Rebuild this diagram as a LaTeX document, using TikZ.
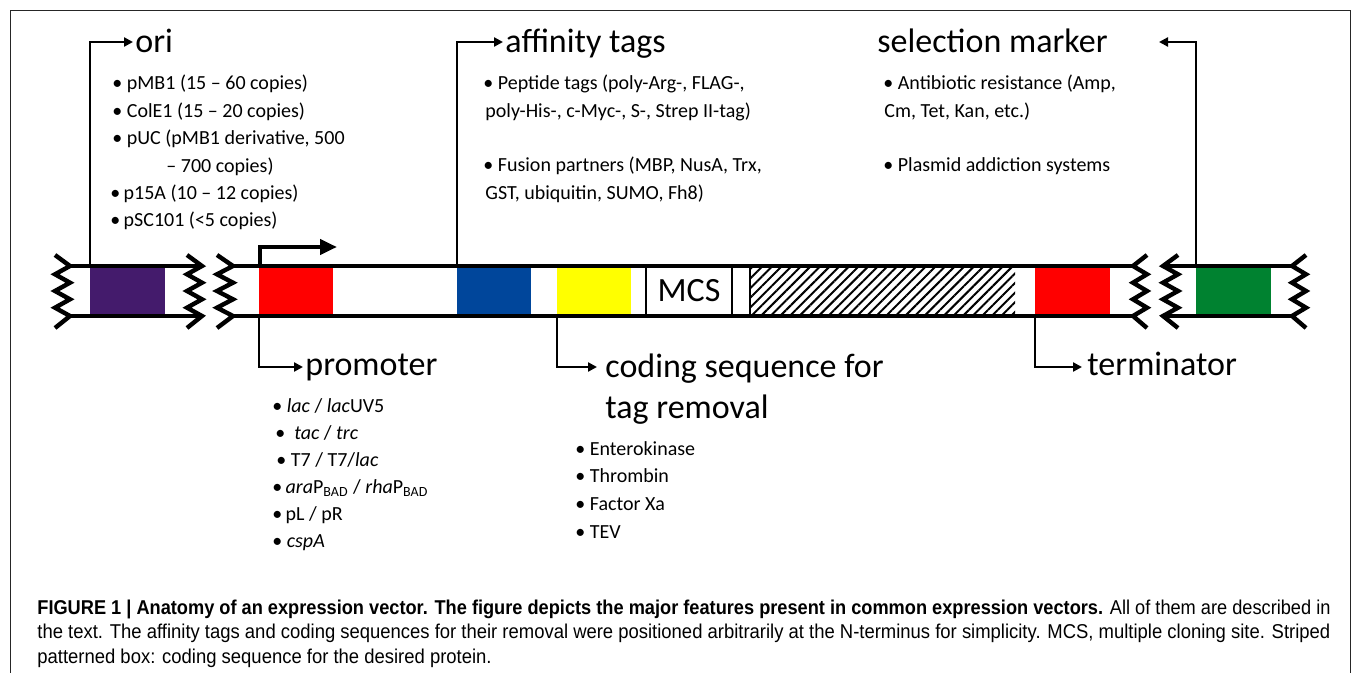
\documentclass[tikz,border=0pt]{standalone}
\usepackage{fontspec}
\setmainfont{Carlito}
\newfontfamily\capfont{Liberation Sans}
\usetikzlibrary{arrows.meta,patterns.meta}
\definecolor{oripurple}{RGB}{68,27,108}
\definecolor{tagblue}{RGB}{0,70,155}
\definecolor{markgreen}{RGB}{0,130,48}
\definecolor{tagyellow}{RGB}{255,255,0}
\definecolor{promred}{RGB}{255,0,0}
\newlength\capwd
\newcommand\capA{\textbf{FIGURE 1 | Anatomy of an expression vector. The figure depicts the major features present in common expression vectors.} All of them are described in}
\newcommand\capB{the text. The affinity tags and coding sequences for their removal were positioned arbitrarily at the N-terminus for simplicity. MCS, multiple cloning site. Striped}
\newcommand\capC{patterned box: coding sequence for the desired protein.}
\newcommand\capsize{\capfont\fontsize{10}{11}\selectfont}
\newcommand\zigzag[2]{\draw[zz] (#2,255) -- (#1,266) -- (#2,274.3) -- (#1,282.7) -- (#2,291) -- (#1,299.3) -- (#2,307.7) -- (#1,316) -- (#2,328);}
\begin{document}
\settowidth\capwd{\capsize\capB}%
\pgfmathsetmacro\capsc{646.5/\capwd}%
\begin{tikzpicture}[x=0.5pt,y=-0.5pt,
  dna/.style={line width=2.2pt},
  zz/.style={line width=2.2pt, line join=miter},
  conn/.style={line width=1.3pt, -{Triangle[length=4.5pt,width=4.5pt]}},
  bent/.style={line width=2.2pt, -{Triangle[length=8.5pt,width=7.5pt]}},
  big/.style={font=\fontsize{17}{20}\selectfont, inner sep=0, anchor=base west},
  lst/.style={font=\fontsize{10}{12}\selectfont, inner sep=0, anchor=base west},
  captext/.style={inner sep=0, anchor=base west},
  seg/.style={inner sep=0, outer sep=0, minimum height=23pt, draw=none},
  mcsbox/.style={inner sep=0, outer sep=0, minimum height=25pt, draw, line width=1.25pt, fill=white, font=\fontsize{17}{20}\selectfont},
  hatch/.style={inner sep=0, outer sep=0, minimum height=25pt, pattern={Lines[angle=45,distance=3.4pt,line width=1pt]}}
]
\useasboundingbox (0,0) rectangle (1352,673);
\fill[white] (0,0) rectangle (1352,673);
\draw[line width=0.5pt, black!85] (10,673) -- (10,11) -- (1350,11) -- (1350,673);

% segments
\node[seg, fill=oripurple, minimum width=37.5pt] (orib) at (127.5,291) {};
\node[seg, fill=promred, minimum width=37pt] (promb) at (296,291) {};
\node[seg, fill=tagblue, minimum width=37pt] (tagb) at (494,291) {};
\node[seg, fill=tagyellow, minimum width=37pt] (cleavb) at (594,291) {};
\node[mcsbox, minimum width=43pt] (mcs) at (689,291) {MCS};
\node[hatch, minimum width=132.5pt] (cds) at (882.5,291) {};
\draw[line width=1.25pt] (cds.north west) -- (cds.south west);
\node[seg, fill=promred, minimum width=37.5pt] (termb) at (1072.5,291) {};
\node[seg, fill=markgreen, minimum width=37.5pt] (markb) at (1233.5,291) {};

% DNA lines
\draw[dna] (70,266) -- (202,266) (70,316) -- (202,316);
\draw[dna] (233,266) -- (1133,266) (233,316) -- (1133,316);
\draw[dna] (1163,266) -- (1292,266) (1163,316) -- (1292,316);

% broken ends
\zigzag{70}{55}
\zigzag{202}{187}
\zigzag{233}{217}
\zigzag{1133}{1147}
\zigzag{1163}{1178}
\zigzag{1292}{1306}

% labels
\node[big] (oril) at (135,53) {ori};
\node[big] (affl) at (505,53) {affinity tags};
\node[big] (sell) at (877,53) {selection marker};
\node[big] (proml) at (305,375) {promoter};
\node[big] (codl) at (605,377) {coding sequence for};
\node[big] (codl2) at (605,418) {tag removal};
\node[big] (terml) at (1087,375) {terminator};

% connector ends
\coordinate (oriE) at (133,42);
\coordinate (affE) at (503,42);
\coordinate (selE) at (1159,42);
\coordinate (promE) at (303,367);
\coordinate (codE) at (597,367);
\coordinate (termE) at (1082,367);
\coordinate (tssE) at (337,247);

\draw[conn] (orib.north west) |- (oriE);
\draw[conn] (tagb.north west) |- (affE);
\draw[conn] (markb.north west) |- (selE);
\draw[conn] (promb.south west) |- (promE);
\draw[conn] (cleavb.south west) |- (codE);
\draw[conn] (termb.south west) |- (termE);
\draw[bent] ([xshift=0.5pt,yshift=1pt]promb.north west) |- (tssE);

% ori list
\node[lst] (o1) at (112,90) {• pMB1 (15 – 60 copies)};
\node[lst] (o2) at (112,117.5) {• ColE1 (15 – 20 copies)};
\node[lst] (o3) at (112,145) {• pUC (pMB1 derivative, 500};
\node[lst] (o4) at (166,172.5) {– 700 copies)};
\node[lst] (o5) at (110,200) {•\,p15A (10 – 12 copies)};
\node[lst] (o6) at (110,227) {•\,pSC101 (<5 copies)};

% affinity list
\node[lst] (a1) at (483,90) {• Peptide tags (poly-Arg-, FLAG-,};
\node[lst] (a2) at (485,117.5) {poly-His-, c-Myc-, S-, Strep II-tag)};
\node[lst] (a3) at (483,172) {• Fusion partners (MBP, NusA, Trx,};
\node[lst] (a4) at (485,199.5) {GST, ubiquitin, SUMO, Fh8)};

% selection list
\node[lst] (s1) at (883,90) {• Antibiotic resistance (Amp,};
\node[lst] (s2) at (884,117.5) {Cm, Tet, Kan, etc.)};
\node[lst] (s3) at (883,172) {• Plasmid addiction systems};

% promoter list
\node[lst] (p1) at (272,412) {• \textit{lac} / \textit{lac}UV5};
\node[lst] (p2) at (275,439) {•\ \ \textit{tac} / \textit{trc}};
\node[lst] (p3) at (276,466) {• T7 / T7/\textit{lac}};
\node[lst] (p4) at (272,493) {•\,\textit{ara}P\textsubscript{BAD} / \textit{rha}P\textsubscript{BAD}};
\node[lst] (p5) at (272,520) {•\,pL / pR};
\node[lst] (p6) at (272,547) {• \textit{cspA}};

% cleavage list
\node[lst] (e1) at (575,455) {• Enterokinase};
\node[lst] (e2) at (575,482) {• Thrombin};
\node[lst] (e3) at (575,510) {• Factor Xa};
\node[lst] (e4) at (575,538) {• TEV};

% caption
\node[captext] (cap1) at (37,614) {\resizebox{646.5pt}{\height}{\capsize\capA}};
\node[captext] (cap2) at (37,638.5) {\scalebox{\capsc}[1]{\capsize\capB}};
\node[captext] (cap3) at (37,663) {\scalebox{\capsc}[1]{\capsize\capC}};
\end{tikzpicture}
\end{document}
